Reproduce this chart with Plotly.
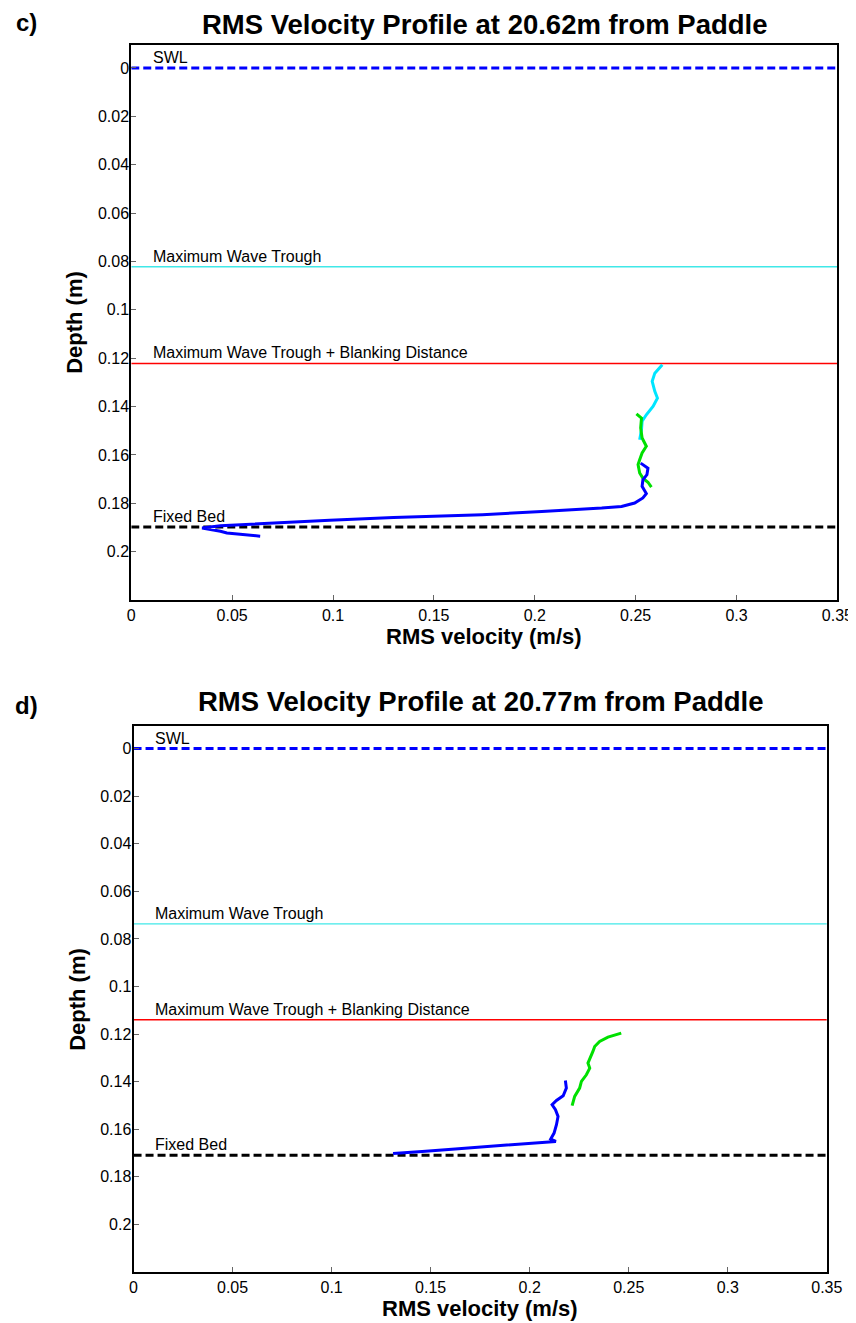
import plotly.graph_objects as go

# ---------------- data: panel c) 20.62 m from paddle ----------------
c_cyan_vel = [0.2632, 0.2595, 0.2582, 0.2595, 0.2608, 0.2587, 0.2553, 0.2532, 0.2529, 0.2520]
c_cyan_depth = [0.1227, 0.1262, 0.1296, 0.1337, 0.1365, 0.1399, 0.1434, 0.1461, 0.1496, 0.1537]

c_green_vel = [0.2504, 0.2529, 0.2525, 0.2532, 0.2553, 0.2532, 0.2520, 0.2512, 0.2520, 0.2536, 0.2561, 0.2578]
c_green_depth = [0.1430, 0.1448, 0.1489, 0.1530, 0.1564, 0.1592, 0.1620, 0.1640, 0.1675, 0.1696, 0.1713, 0.1733]

c_blue_vel = [0.2525, 0.2561, 0.2556, 0.2536, 0.2532, 0.2553, 0.2536, 0.2495, 0.2430, 0.2332,
              0.2035, 0.1740, 0.1300, 0.0984, 0.0442, 0.0351, 0.0442, 0.0474, 0.0639]
c_blue_depth = [0.1634, 0.1655, 0.1682, 0.1703, 0.1730, 0.1760, 0.1778, 0.1799, 0.1813, 0.1820,
                0.1834, 0.1847, 0.1859, 0.1870, 0.1893, 0.1902, 0.1916, 0.1923, 0.1936]

c_swl = 0.0
c_trough = 0.0822
c_blank = 0.1222
c_bed = 0.1898

# ---------------- data: panel d) 20.77 m from paddle ----------------
d_green_vel = [0.2462, 0.2395, 0.2353, 0.2328, 0.2319, 0.2303, 0.2294, 0.2303, 0.2286, 0.2261, 0.2252, 0.2227, 0.2214]
d_green_depth = [0.1196, 0.1213, 0.1231, 0.1252, 0.1273, 0.1308, 0.1322, 0.1343, 0.1371, 0.1399, 0.1427, 0.1462, 0.1501]

d_blue_vel = [0.2180, 0.2185, 0.2169, 0.2135, 0.2113, 0.2130, 0.2143, 0.2135, 0.2123, 0.2106, 0.2132,
              0.2026, 0.1825, 0.1624, 0.1457, 0.1310]
d_blue_depth = [0.1395, 0.1427, 0.1459, 0.1479, 0.1497, 0.1518, 0.1546, 0.1581, 0.1616, 0.1641, 0.1651,
                0.1658, 0.1672, 0.1683, 0.1693, 0.1702]

d_swl = 0.0
d_trough = 0.0737
d_blank = 0.1140
d_bed = 0.1709

x_range = [0, 0.35]
y_range = [0.22, -0.0095]
x_ticks = [0, 0.05, 0.1, 0.15, 0.2, 0.25, 0.3, 0.35]
x_tick_labels = ["0", "0.05", "0.1", "0.15", "0.2", "0.25", "0.3", "0.35"]
y_ticks = [0, 0.02, 0.04, 0.06, 0.08, 0.1, 0.12, 0.14, 0.16, 0.18, 0.2]
y_tick_labels = ["0", "0.02", "0.04", "0.06", "0.08", "0.1", "0.12", "0.14", "0.16", "0.18", "0.2"]

titles = ["RMS Velocity Profile at 20.62m from Paddle", "RMS Velocity Profile at 20.77m from Paddle"]
letters = ["c)", "d)"]

FONT = "Liberation Sans, Arial, sans-serif"
OFF = 8                 # page body margin
K = 872 / 856           # horizontal compensation observed in the capture
W, H = 864, 1315


def px(x):
    return (x * K - OFF) / W


def py(y):
    return 1 - (y - OFF) / H


fig = go.Figure()


def hline(val, xa, ya, color, width, dash=None):
    fig.add_trace(go.Scatter(x=x_range, y=[val, val], mode="lines", xaxis=xa, yaxis=ya,
                             line=dict(color=color, width=width, dash=dash),
                             showlegend=False, hoverinfo="skip"))


def curve(v, d, xa, ya, color):
    fig.add_trace(go.Scatter(x=v, y=d, mode="lines", xaxis=xa, yaxis=ya,
                             line=dict(color=color, width=3), showlegend=False))


# panel c
hline(c_swl, "x", "y", "#0000ff", 3, "8px,4px")
hline(c_trough, "x", "y", "#40e8e8", 1.3)
hline(c_blank, "x", "y", "#ff0000", 1.5)
hline(c_bed, "x", "y", "#000000", 3, "8px,4px")
curve(c_cyan_vel, c_cyan_depth, "x", "y", "#00e5ff")
curve(c_green_vel, c_green_depth, "x", "y", "#00e000")
curve(c_blue_vel, c_blue_depth, "x", "y", "#0000ff")

# panel d
hline(d_swl, "x2", "y2", "#0000ff", 3, "8px,4px")
hline(d_trough, "x2", "y2", "#40e8e8", 1.3)
hline(d_blank, "x2", "y2", "#ff0000", 1.5)
hline(d_bed, "x2", "y2", "#000000", 3, "8px,4px")
curve(d_green_vel, d_green_depth, "x2", "y2", "#00e000")
curve(d_blue_vel, d_blue_depth, "x2", "y2", "#0000ff")

axis_common = dict(showgrid=False, zeroline=False, showline=True, linecolor="black", linewidth=2,
                   mirror=True, ticks="inside", ticklen=5, tickcolor="#666666", tickwidth=1,
                   tickfont=dict(family=FONT, size=16, color="black"))

top_x = [px(127.7), px(837.3)]
top_y = [py(600), py(45)]
bot_x = [px(130), px(826.7)]
bot_y = [py(1272), py(726)]

fig.update_layout(
    width=W, height=H, margin=dict(l=0, r=0, t=0, b=0),
    paper_bgcolor="white", plot_bgcolor="white", showlegend=False,
    xaxis=dict(domain=top_x, range=x_range, tickvals=x_ticks, ticktext=x_tick_labels,
               anchor="y", **axis_common),
    yaxis=dict(domain=top_y, range=y_range, tickvals=y_ticks, ticktext=y_tick_labels,
               anchor="x", ticklabelstandoff=-3, **axis_common),
    xaxis2=dict(domain=bot_x, range=x_range, tickvals=x_ticks, ticktext=x_tick_labels,
                anchor="y2", **axis_common),
    yaxis2=dict(domain=bot_y, range=y_range, tickvals=y_ticks, ticktext=y_tick_labels,
                anchor="x2", ticklabelstandoff=-3, **axis_common),
)

ann = []
label_font = dict(family=FONT, size=16, color="black")
names = ["SWL", "Maximum Wave Trough", "Maximum Wave Trough + Blanking Distance", "Fixed Bed"]
for xa, ya, vals in [("x", "y", (c_swl, c_trough, c_blank, c_bed)),
                     ("x2", "y2", (d_swl, d_trough, d_blank, d_bed))]:
    for nm, v in zip(names, vals):
        ann.append(dict(x=0.01, y=v, xref=xa, yref=ya, text=nm, showarrow=False,
                        xanchor="left", yanchor="bottom", yshift=0, font=label_font))

title_font = dict(family=FONT, size=27.5, color="black")
letter_font = dict(family=FONT, size=24, color="black")
axt_font = dict(family=FONT, size=22, color="black")

# panel c header (kept inside the figure's top edge)
ann.append(dict(x=px(482.5), y=1, xref="paper", yref="paper", text="<b>%s</b>" % titles[0],
                showarrow=False, xanchor="center", yanchor="top", borderpad=0, font=title_font))
ann.append(dict(x=px(22), y=1, xref="paper", yref="paper", text="<b>%s</b>" % letters[0],
                showarrow=False, xanchor="center", yanchor="top", borderpad=0, font=letter_font))
# panel d header
ann.append(dict(x=px(478.3), y=py(701), xref="paper", yref="paper", text="<b>%s</b>" % titles[1],
                showarrow=False, xanchor="center", yanchor="middle", font=title_font))
ann.append(dict(x=px(22), y=py(705), xref="paper", yref="paper", text="<b>%s</b>" % letters[1],
                showarrow=False, xanchor="center", yanchor="middle", font=letter_font))

for cx, xt_y, dx, cy in [(482.5, 636, 70, 322), (478.3, 1308, 73, 999)]:
    ann.append(dict(x=px(cx), y=py(xt_y), xref="paper", yref="paper", text="<b>RMS velocity (m/s)</b>",
                    showarrow=False, xanchor="center", yanchor="middle", font=axt_font))
    ann.append(dict(x=px(dx), y=py(cy), xref="paper", yref="paper", text="<b>Depth (m)</b>",
                    showarrow=False, xanchor="center", yanchor="middle", textangle=-90, font=axt_font))

fig.update_layout(annotations=ann)
fig.write_html("out.html")
